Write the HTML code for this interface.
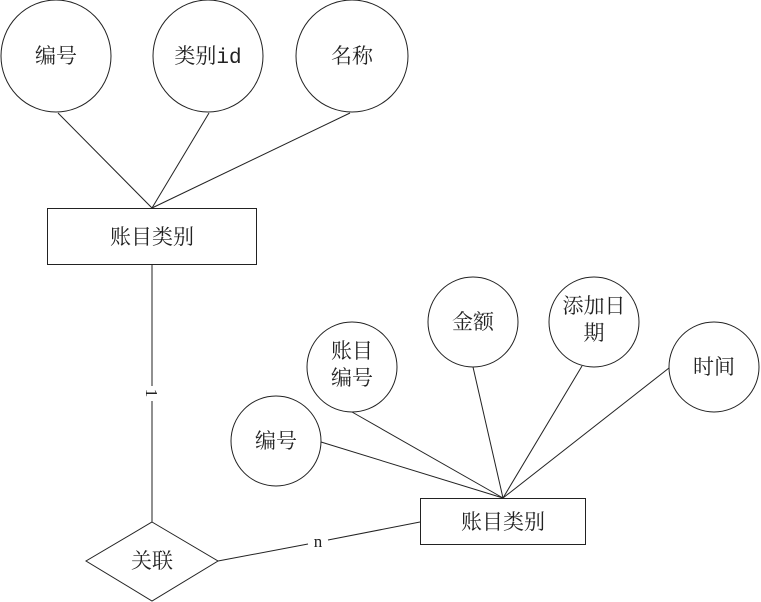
<!DOCTYPE html>
<html><head><meta charset="utf-8"><style>
html,body{margin:0;padding:0;background:#fff;}
svg{display:block;}
text{font-family:"Liberation Serif","Noto Serif CJK SC","Noto Sans CJK SC",serif;font-size:21px;fill:#222;}
</style></head><body>
<svg width="761" height="602" viewBox="0 0 761 602" xmlns="http://www.w3.org/2000/svg">
<g fill="#fff" stroke="#222" stroke-width="1">
<ellipse cx="56" cy="56" rx="55" ry="56"/>
<ellipse cx="208" cy="56" rx="55" ry="56"/>
<ellipse cx="352" cy="56" rx="56" ry="56"/>
<rect x="47.5" y="208.5" width="209" height="56"/>
<polygon points="152,522 218,561 152,601 86,561"/>
<rect x="420.5" y="498.5" width="165" height="46"/>
<circle cx="276" cy="441" r="45"/>
<circle cx="352" cy="367" r="45"/>
<circle cx="473" cy="322" r="45"/>
<circle cx="594" cy="322" r="45"/>
<circle cx="714" cy="367" r="45"/>
</g>
<g stroke="#222" stroke-width="1" fill="none">
<line x1="58" y1="113" x2="152" y2="208"/>
<line x1="209" y1="113" x2="152" y2="208"/>
<line x1="350" y1="113" x2="152" y2="208"/>
<line x1="152" y1="265" x2="152" y2="386"/>
<line x1="152" y1="401" x2="152" y2="522"/>
<line x1="218" y1="561" x2="308" y2="544"/>
<line x1="328" y1="540" x2="420" y2="522"/>
<line x1="321" y1="442" x2="503" y2="498"/>
<line x1="352" y1="412" x2="503" y2="498"/>
<line x1="473" y1="367" x2="503" y2="498"/>
<line x1="582" y1="366" x2="503" y2="498"/>
<line x1="669" y1="368" x2="503" y2="498"/>
</g>
<g text-anchor="middle">
<text x="56" y="63">编号</text>
<text x="208" y="63">类别<tspan style="font-family:'Liberation Mono',monospace">id</tspan></text>
<text x="352" y="63">名称</text>
<text x="152" y="244">账目类别</text>
<text x="152" y="568">关联</text>
<text x="503" y="529">账目类别</text>
<text x="276" y="448">编号</text>
<text x="352" y="358">账目</text>
<text x="352" y="385">编号</text>
<text x="473" y="329">金额</text>
<text x="594" y="313">添加日</text>
<text x="594" y="340">期</text>
<text x="714" y="374">时间</text>
<text x="318" y="547" style="font-size:17px">n</text>
<text x="0" y="0" style="font-size:17px" transform="translate(152,393) rotate(90) translate(0,6)">1</text>
</g>
</svg>
</body></html>
